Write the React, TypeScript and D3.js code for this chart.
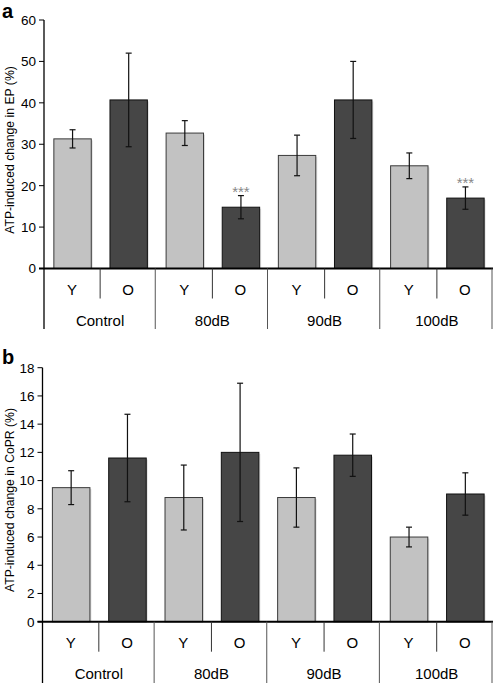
import React from "react";
import * as d3 from "d3";

const groups = ["Control", "80dB", "90dB", "100dB"];
const ages = ["Y", "O"];

const epYMean = [31.3, 32.7, 27.3, 24.8];
const epOMean = [40.7, 14.8, 40.7, 17.0];
const epYErr = [2.2, 3.0, 4.9, 3.1];
const epOErr = [11.3, 2.8, 9.3, 2.7];
const epOSig = ["", "***", "", "***"];
const epTicks = [0, 10, 20, 30, 40, 50, 60];

const coprYMean = [9.5, 8.8, 8.8, 6.0];
const coprOMean = [11.6, 12.0, 11.8, 9.05];
const coprYErr = [1.2, 2.3, 2.1, 0.7];
const coprOErr = [3.1, 4.9, 1.5, 1.5];
const coprTicks = [0, 2, 4, 6, 8, 10, 12, 14, 16, 18];

const FONT = "'Liberation Sans', Arial, Helvetica, sans-serif";
const FILLS: Record<string, string> = { Y: "#c2c2c2", O: "#464646" };
const STROKES: Record<string, string> = { Y: "#3a3a3a", O: "#111" };

type PanelProps = {
  letter: string;
  title: string;
  yMean: number[];
  oMean: number[];
  yErr: number[];
  oErr: number[];
  sig?: string[];
  ticks: number[];
  x0: number;
  x1: number;
  yTop: number;
  yZero: number;
  axisBottom: number;
  letterY: number;
  titleCenter: number;
};

function Panel(p: PanelProps) {
  const maxV = p.ticks[p.ticks.length - 1];
  const y = d3.scaleLinear().domain([0, maxV]).range([p.yZero, p.yTop]);
  const gx = d3.scaleBand<string>().domain(groups).range([p.x0, p.x1]).padding(0);
  const ax = d3
    .scaleBand<string>()
    .domain(ages)
    .range([0, gx.bandwidth()])
    .paddingInner(1 / 3)
    .paddingOuter(1 / 6);
  const step = gx.bandwidth() / 2;
  const labY = p.yZero + 21;
  const grpY = p.yZero + 52;
  const sepShort = p.yZero + 30;

  const bars: any[] = [];
  groups.forEach((g, gi) => {
    ages.forEach((a) => {
      const mean = a === "Y" ? p.yMean[gi] : p.oMean[gi];
      const err = a === "Y" ? p.yErr[gi] : p.oErr[gi];
      const bx = (gx(g) as number) + (ax(a) as number) + 0.5;
      const bw = ax.bandwidth();
      const cx = bx + bw / 2;
      const top = y(mean);
      const eTop = y(mean + err);
      const eBot = y(mean - err);
      const sig = a === "O" && p.sig ? p.sig[gi] : "";
      bars.push(
        <g key={g + a}>
          <rect x={bx + 1.5} y={top + 1.5} width={bw} height={p.yZero - top - 1.5} fill="#000" opacity={0.12} />
          <rect x={bx} y={top} width={bw} height={p.yZero - top} fill={FILLS[a]} stroke={STROKES[a]} strokeWidth={1} />
          <line x1={cx} x2={cx} y1={eTop} y2={eBot} stroke="#111" strokeWidth={1.2} />
          <line x1={cx - 3} x2={cx + 3} y1={eTop} y2={eTop} stroke="#111" strokeWidth={1.2} />
          <line x1={cx - 3} x2={cx + 3} y1={eBot} y2={eBot} stroke="#111" strokeWidth={1.2} />
          {sig ? (
            <text x={cx} y={eTop + 1.5} textAnchor="middle" fontSize={15} fill="#888" fontFamily={FONT}>
              {sig}
            </text>
          ) : null}
        </g>
      );
    });
  });

  return (
    <g>
      <text x={2} y={p.letterY} fontSize={20} fontWeight="bold" fontFamily={FONT} fill="#000">
        {p.letter}
      </text>
      <text
        transform={`translate(14,${p.titleCenter}) rotate(-90)`}
        textAnchor="middle"
        fontSize={12.2}
        fontFamily={FONT}
        fill="#000"
      >
        {p.title}
      </text>
      {p.ticks.map((t) => (
        <g key={t}>
          <line x1={p.x0 - 5} x2={p.x0} y1={y(t)} y2={y(t)} stroke="#000" strokeWidth={1} />
          <text x={p.x0 - 8} y={y(t)} dy="0.36em" textAnchor="end" fontSize={13.5} fontFamily={FONT} fill="#000">
            {t}
          </text>
        </g>
      ))}
      {bars}
      <line x1={p.x0} x2={p.x0} y1={p.yTop} y2={p.axisBottom} stroke="#000" strokeWidth={1.3} />
      <line x1={p.x0 - 5} x2={p.x1} y1={p.yZero} y2={p.yZero} stroke="#000" strokeWidth={2} />
      {groups.map((g) => {
        const gs = gx(g) as number;
        return (
          <g key={g}>
            <line x1={gs + step} x2={gs + step} y1={p.yZero} y2={sepShort} stroke="#333" strokeWidth={1} />
            <line
              x1={gs + gx.bandwidth() - 1}
              x2={gs + gx.bandwidth() - 1}
              y1={p.yZero}
              y2={p.axisBottom}
              stroke="#555"
              strokeWidth={1}
            />
            {ages.map((a, ai) => (
              <text
                key={a}
                x={gs + step * ai + step / 2}
                y={labY}
                dy="0.36em"
                textAnchor="middle"
                fontSize={15}
                fontFamily={FONT}
                fill="#000"
              >
                {a}
              </text>
            ))}
            <text x={gs + gx.bandwidth() / 2} y={grpY} dy="0.36em" textAnchor="middle" fontSize={15} fontFamily={FONT} fill="#000">
              {g}
            </text>
          </g>
        );
      })}
    </g>
  );
}

export default function App() {
  return (
    <svg
      width={496}
      height={683}
      viewBox="0 0 496 683"
      style={{ position: "absolute", left: 0, top: 0, background: "#fff" }}
    >
      <rect x={0} y={0} width={496} height={683} fill="#fff" />
      <Panel
        letter="a"
        title="ATP-induced change in EP (%)"
        yMean={epYMean}
        oMean={epOMean}
        yErr={epYErr}
        oErr={epOErr}
        sig={epOSig}
        ticks={epTicks}
        x0={44}
        x1={493}
        yTop={20}
        yZero={268.5}
        axisBottom={329}
        letterY={18}
        titleCenter={150}
      />
      <Panel
        letter="b"
        title="ATP-induced change in CoPR (%)"
        yMean={coprYMean}
        oMean={coprOMean}
        yErr={coprYErr}
        oErr={coprOErr}
        ticks={coprTicks}
        x0={42.5}
        x1={493}
        yTop={367.7}
        yZero={621.7}
        axisBottom={683}
        letterY={364}
        titleCenter={500}
      />
    </svg>
  );
}
